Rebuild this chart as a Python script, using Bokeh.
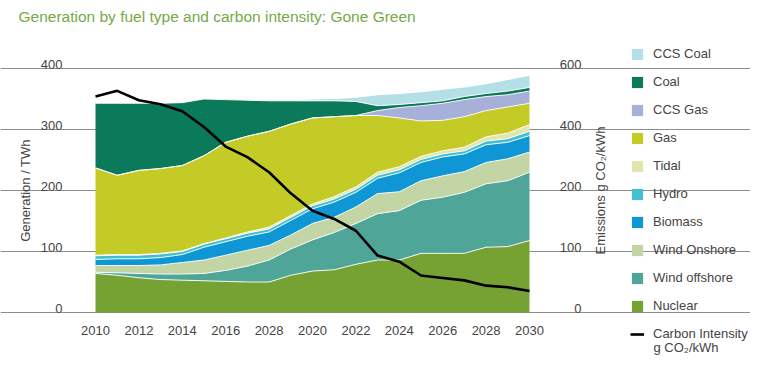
import math
from bokeh.plotting import figure
from bokeh.models import (ColumnDataSource, Range1d, FixedTicker, Grid,
                          Label, Legend, LegendItem)
from bokeh.embed import file_html
from bokeh.resources import INLINE

# ---------------- data ----------------
years = list(range(2010, 2031))
nuclear = [64, 61, 57, 54, 53, 52, 51, 50, 50, 61, 68, 70, 79, 86, 86, 97, 97, 97, 107, 108, 118]
wind_offshore = [2, 4, 7, 9, 10, 12, 18, 26, 36, 43, 51, 61, 67, 76, 81, 87, 92, 100, 104, 108, 112]
wind_onshore = [11, 12, 13, 15, 19, 22, 25, 26, 24, 23, 27, 25, 27, 33, 31, 32, 35, 34, 35, 36, 33]
biomass = [10, 11, 11, 12, 13, 21, 22, 23, 22, 24, 24, 25, 24, 25, 31, 30, 31, 29, 29, 27, 27]
hydro = [6, 6, 6, 6, 5, 5, 5, 5, 5, 5, 5, 5, 5, 5, 5, 5, 5, 5, 6, 6, 7]
tidal = [1, 1, 1, 1, 1, 1, 1, 2, 3, 3, 3, 4, 4, 5, 5, 5, 5, 6, 7, 9, 11]
gas = [143, 130, 138, 139, 140, 144, 157, 157, 157, 150, 141, 131, 117, 93, 80, 58, 50, 50, 43, 43, 35]
ccs_gas = [0, 0, 0, 0, 0, 0, 0, 0, 0, 0, 0, 0, 0, 8, 17, 25, 28, 28, 23, 20, 20]
coal = [106, 118, 110, 107, 103, 93, 70, 59, 50, 38, 28, 26, 23, 8, 5, 5, 4, 5, 5, 6, 6]
ccs_coal = [0, 0, 0, 0, 0, 0, 0, 0, 1, 1, 2, 3, 6, 17, 17, 17, 18, 15, 15, 18, 19]
carbon_intensity = [531, 545, 522, 512, 495, 456, 408, 382, 345, 293, 250, 230, 201, 140, 125, 91, 85, 79, 66, 62, 53]

x_tick_years = [2010, 2012, 2014, 2016, 2018, 2020, 2022, 2024, 2026, 2028, 2030]
x_tick_labels = ["2010", "2012", "2014", "2016", "2028", "2020", "2022", "2024", "2026", "2028", "2030"]
left_ticks = [0, 100, 200, 300, 400]
left_tick_labels = ["0", "100", "200", "300", "400"]
right_ticks = [0, 150, 300, 450, 600]
right_tick_labels = ["0", "100", "200", "400", "600"]

series_names = ["Nuclear", "Wind offshore", "Wind Onshore", "Biomass", "Hydro", "Tidal",
                "Gas", "CCS Gas", "Coal", "CCS Coal"]
series_cols = ["nuclear", "wind_offshore", "wind_onshore", "biomass", "hydro", "tidal",
               "gas", "ccs_gas", "coal", "ccs_coal"]
series_colors = ["#76a133", "#4fa597", "#c3d4a5", "#0f97d5", "#41bfd3", "#e2e5ad",
                 "#c4cb26", "#a6b0d8", "#0b7a5b", "#b5dfe6"]

src = ColumnDataSource(dict(year=years, nuclear=nuclear, wind_offshore=wind_offshore,
                            wind_onshore=wind_onshore, biomass=biomass, hydro=hydro,
                            tidal=tidal, gas=gas, ccs_gas=ccs_gas, coal=coal,
                            ccs_coal=ccs_coal, ci=carbon_intensity))

FONT = "Liberation Sans"
TXT = "#444444"

# ---------------- geometry (frame = whole canvas) ----------------
W, H = 750, 365
PX_YR = 21.7            # pixels per year
PX_U = 0.61             # pixels per TWh
X0_PX, Y0_PX = 95, 312  # canvas position of (2010, 0)


def px_x(px):
    return 2010 + (px - X0_PX) / PX_YR


def px_y(py):
    return (Y0_PX - py) / PX_U


x_start, x_end = px_x(0), px_x(W)
y_start, y_end = px_y(H), px_y(0)
grid_x0, grid_x1 = px_x(40), px_x(581)

p = figure(width=W, height=H, output_backend="svg", toolbar_location=None,
           x_range=Range1d(x_start, x_end), y_range=Range1d(y_start, y_end),
           x_axis_location=None, y_axis_location=None,
           min_border=0)
p.outline_line_color = None
p.xgrid.visible = False
p.ygrid.visible = False
p.extra_y_ranges = {"ci": Range1d(y_start * 1.5, y_end * 1.5)}

grid = Grid(dimension=1, ticker=FixedTicker(ticks=left_ticks), bounds=(grid_x0, grid_x1),
            grid_line_color="#8c8c8c", grid_line_width=1)
p.add_layout(grid)

# ---------------- glyphs ----------------
areas = p.varea_stack(stackers=series_cols, x="year", color=series_colors, source=src)
p.vline_stack(stackers=series_cols[:-1], x="year", source=src, color="white",
              line_width=1, line_alpha=0.9)
ci_line = p.line(x="year", y="ci", source=src, y_range_name="ci",
                 line_color="black", line_width=2.6)


def lab(**kw):
    base = dict(text_font=FONT, text_font_size="13px", text_color=TXT)
    base.update(kw)
    p.add_layout(Label(**base))


# tick labels above gridlines
for v, t in zip(left_ticks, left_tick_labels):
    lab(x=grid_x0, y=v, text=t, x_offset=22, y_offset=4,
        text_align="right", text_baseline="alphabetic")
for v, t in zip(right_ticks, right_tick_labels):
    lab(x=grid_x1, y=v, y_range_name="ci", text=t, y_offset=4,
        text_align="right", text_baseline="alphabetic")
# x tick labels
for v, t in zip(x_tick_years, x_tick_labels):
    lab(x=v, y=0, text=t, y_offset=-18, text_align="center", text_baseline="middle")

# axis titles
lab(x=grid_x0, y=200, text="Generation / TWh", x_offset=-15, angle=math.pi / 2,
    text_align="center", text_baseline="middle")
lab(x=grid_x1, y=300, y_range_name="ci", text="Emissions g CO\u2082/kWh", x_offset=19,
    angle=math.pi / 2, text_align="center", text_baseline="middle")

# title
lab(x=grid_x0, y=400, text="Generation by fuel type and carbon intensity: Gone Green",
    x_offset=-22, y_offset=52, text_align="left", text_baseline="alphabetic",
    text_font_size="15.5px", text_color="#78a846")

# legend
items = []
for name, r in reversed(list(zip(series_names, areas))):
    items.append(LegendItem(label=name, renderers=[r]))
items.append(LegendItem(label="Carbon Intensity", renderers=[ci_line]))
legend = Legend(items=items, location=(630, 24), orientation="vertical",
                label_text_font=FONT, label_text_font_size="13px", label_text_color=TXT,
                glyph_width=14, glyph_height=14, label_height=14, label_standoff=9,
                spacing=13, padding=0, margin=0, border_line_color=None,
                background_fill_alpha=0)
p.add_layout(legend)
lab(x=px_x(653), y=px_y(347), text="g CO\u2082/kWh", text_align="left", text_baseline="middle")

open("out.html", "w").write(file_html(p, INLINE))
